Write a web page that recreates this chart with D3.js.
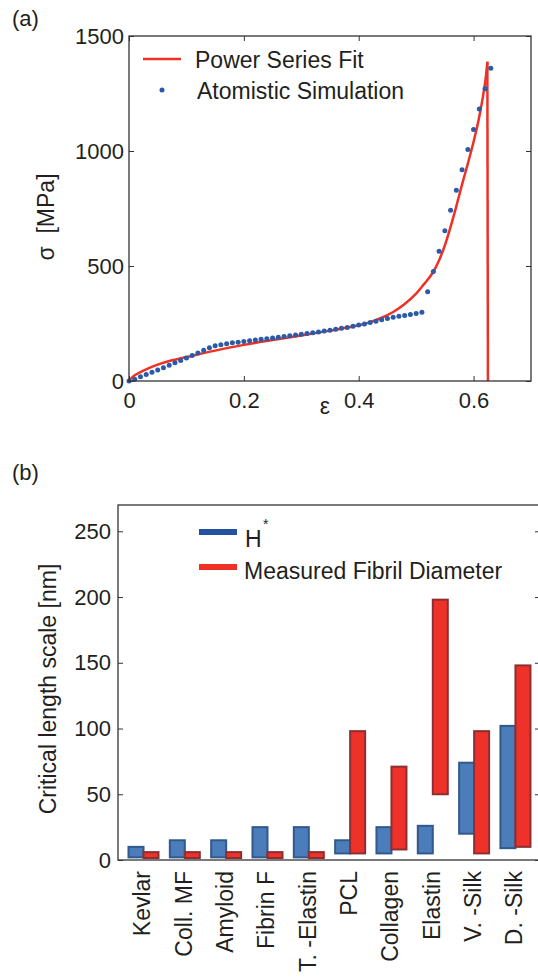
<!DOCTYPE html>
<html>
<head>
<meta charset="utf-8">
<script src="https://cdn.jsdelivr.net/npm/d3@7"></script>
<style>
body { margin: 0; background: #fff; }
svg text { font-family: "Liberation Sans", Arial, sans-serif; fill: #231f20; }
</style>
</head>
<body>
<svg id="fig" width="538" height="978"></svg>
<script>
// ---- panel (a): stress vs strain ----
var strain = [0, 0.01, 0.02, 0.03, 0.04, 0.05, 0.06, 0.07, 0.08, 0.09,
  0.10, 0.11, 0.12, 0.13, 0.14, 0.15, 0.16, 0.17, 0.18, 0.19,
  0.20, 0.21, 0.22, 0.23, 0.24, 0.25, 0.26, 0.27, 0.28, 0.29,
  0.30, 0.31, 0.32, 0.33, 0.34, 0.35, 0.36, 0.37, 0.38, 0.39,
  0.40, 0.41, 0.42, 0.43, 0.44, 0.45, 0.46, 0.47, 0.48, 0.49,
  0.50, 0.51, 0.52, 0.53, 0.54, 0.55, 0.56, 0.57, 0.58, 0.59,
  0.60, 0.61, 0.62, 0.63];
var stress = [0, 8, 18, 28, 38, 48, 58, 68, 79, 89,
  100, 111, 122, 134, 145, 153, 158, 162, 166, 169,
  172, 175, 178, 181, 184, 187, 190, 193, 197, 200,
  203, 206, 210, 213, 217, 221, 225, 229, 233, 238,
  243, 248, 254, 260, 266, 272, 277, 281, 285, 289,
  294, 299, 388, 476, 564, 653, 742, 829, 919, 1007,
  1094, 1183, 1271, 1360];

var fitStrain = [0, 0.005, 0.01, 0.02, 0.03, 0.05, 0.075, 0.10, 0.15, 0.20,
  0.25, 0.30, 0.35, 0.40, 0.42, 0.44, 0.46, 0.48, 0.50, 0.51,
  0.52, 0.53, 0.54, 0.55, 0.56, 0.57, 0.58, 0.59, 0.60, 0.61,
  0.62, 0.624];
var fitStress = [0, 15, 25, 39, 51, 71, 90, 104, 132, 157,
  178, 198, 219, 242, 256, 275, 300, 335, 380, 410,
  440, 475, 525, 590, 670, 760, 855, 945, 1040, 1150,
  1295, 1388];
var failStrain = 0.625;

var xTicksA = [0, 0.2, 0.4, 0.6];
var yTicksA = [0, 500, 1000, 1500];

// ---- panel (b): critical length scales ----
var materials = ["Kevlar", "Coll. MF", "Amyloid", "Fibrin F", "T. -Elastin",
  "PCL", "Collagen", "Elastin", "V. -Silk", "D. -Silk"];
var hLow  = [2, 2, 2, 2, 2, 5, 5, 5, 20, 9];
var hHigh = [10, 15, 15, 25, 25, 15, 25, 26, 74, 102];
var dLow  = [1.5, 1.5, 1.5, 1.5, 1.5, 5, 8, 50, 5, 10];
var dHigh = [6, 6, 6, 6, 6, 98, 71, 198, 98, 148];
var yTicksB = [0, 50, 100, 150, 200, 250];

var red = "#ee3124", blue = "#2a5aa8";
var svg = d3.select("#fig");

function styleAxis(sel, size) {
  sel.attr("font-size", size).attr("font-family", null).attr("color", "#333");
  sel.select(".domain").remove();
  sel.selectAll("line").attr("stroke-width", 1);
}

// ---------- (a) ----------
var a = { left: 129, right: 531, top: 36, bottom: 381 };
var x = d3.scaleLinear().domain([0, 0.7]).range([a.left, a.right]);
var y = d3.scaleLinear().domain([0, 1500]).range([a.bottom, a.top]);

var ga = svg.append("g");

var line = d3.line()
  .x(function(d) { return x(d[0]); })
  .y(function(d) { return y(d[1]); })
  .curve(d3.curveCatmullRom);

var fitPts = fitStrain.map(function(s, i) { return [s, fitStress[i]]; });
ga.append("path")
  .datum(fitPts)
  .attr("fill", "none")
  .attr("stroke", red)
  .attr("stroke-width", 2.5)
  .attr("d", line);
// drop at failure
ga.append("path")
  .datum([fitPts[fitPts.length - 1], [failStrain, 0]])
  .attr("fill", "none")
  .attr("stroke", red)
  .attr("stroke-width", 2.5)
  .attr("d", d3.line().x(function(d) { return x(d[0]); }).y(function(d) { return y(d[1]); }));

ga.selectAll("circle.sim")
  .data(strain)
  .enter().append("circle")
  .attr("class", "sim")
  .attr("cx", function(d) { return x(d); })
  .attr("cy", function(d, i) { return y(stress[i]); })
  .attr("r", 2.5)
  .attr("fill", blue);

ga.append("g").attr("transform", "translate(0," + a.bottom + ")")
  .call(d3.axisBottom(x).tickValues(xTicksA).tickFormat(function(d) { return String(d); })
    .tickSize(-5).tickPadding(11))
  .call(styleAxis, 22);
ga.append("g").attr("transform", "translate(" + a.left + ",0)")
  .call(d3.axisLeft(y).tickValues(yTicksA).tickFormat(d3.format("d")).tickSize(-5).tickPadding(5))
  .call(styleAxis, 22);
ga.append("g").attr("transform", "translate(0," + a.top + ")")
  .call(d3.axisTop(x).tickValues(xTicksA).tickFormat("").tickSize(-5))
  .call(styleAxis, 22);
ga.append("g").attr("transform", "translate(" + a.right + ",0)")
  .call(d3.axisRight(y).tickValues(yTicksA).tickFormat("").tickSize(-5))
  .call(styleAxis, 22);

ga.append("rect")
  .attr("x", a.left).attr("y", a.top)
  .attr("width", a.right - a.left).attr("height", a.bottom - a.top)
  .attr("fill", "none").attr("stroke", "#333").attr("stroke-width", 1.3);

// legend (a)
ga.append("line").attr("x1", 143).attr("x2", 181).attr("y1", 59).attr("y2", 59)
  .attr("stroke", red).attr("stroke-width", 2.5);
ga.append("text").attr("x", 195).attr("y", 67.5).attr("font-size", 23).text("Power Series Fit");
ga.append("circle").attr("cx", 162).attr("cy", 90).attr("r", 2.5).attr("fill", blue);
ga.append("text").attr("x", 197).attr("y", 98.5).attr("font-size", 23).text("Atomistic Simulation");

ga.append("text").attr("x", 325).attr("y", 414).attr("text-anchor", "middle")
  .attr("font-size", 23).text("ε");
ga.append("text").attr("transform", "translate(54,217) rotate(-90)")
  .attr("text-anchor", "middle").attr("font-size", 23)
  .style("white-space", "pre").text("σ  [MPa]");
svg.append("text").attr("x", 12).attr("y", 26).attr("font-size", 22).text("(a)");

// ---------- (b) ----------
var b = { left: 118, right: 540, top: 505, bottom: 860 };
var xb = d3.scaleLinear().domain([-0.617, 9.594]).range([b.left, b.right]);
var yb = d3.scaleLinear().domain([0, 270]).range([b.bottom, b.top]);
var bw = 0.363;

var gb = svg.append("g");

gb.selectAll("rect.h")
  .data(materials)
  .enter().append("rect")
  .attr("class", "h")
  .attr("x", function(d, i) { return xb(i - bw); })
  .attr("width", function() { return xb(bw) - xb(0); })
  .attr("y", function(d, i) { return yb(hHigh[i]); })
  .attr("height", function(d, i) { return yb(hLow[i]) - yb(hHigh[i]); })
  .attr("fill", "#4a7dba")
  .attr("stroke", "#30598c")
  .attr("stroke-width", 2);

gb.selectAll("rect.d")
  .data(materials)
  .enter().append("rect")
  .attr("class", "d")
  .attr("x", function(d, i) { return xb(i); })
  .attr("width", function() { return xb(bw) - xb(0); })
  .attr("y", function(d, i) { return yb(dHigh[i]); })
  .attr("height", function(d, i) { return yb(dLow[i]) - yb(dHigh[i]); })
  .attr("fill", "#ee3129")
  .attr("stroke", "#8c2f33")
  .attr("stroke-width", 2);

gb.append("g").attr("transform", "translate(" + b.left + ",0)")
  .call(d3.axisLeft(yb).tickValues(yTicksB).tickSize(-5).tickPadding(7))
  .call(styleAxis, 22);
gb.append("g").attr("transform", "translate(" + b.right + ",0)")
  .call(d3.axisRight(yb).tickValues(yTicksB).tickFormat("").tickSize(-5))
  .call(styleAxis, 22);

gb.append("rect")
  .attr("x", b.left).attr("y", b.top)
  .attr("width", b.right - b.left).attr("height", b.bottom - b.top)
  .attr("fill", "none").attr("stroke", "#333").attr("stroke-width", 1.3);

gb.selectAll("text.cat")
  .data(materials)
  .enter().append("text")
  .attr("class", "cat")
  .attr("transform", function(d, i) { return "translate(" + xb(i) + ",871) rotate(-90)"; })
  .attr("text-anchor", "end")
  .attr("dy", "0.3em")
  .attr("font-size", 23)
  .text(function(d) { return d; });

// legend (b)
gb.append("rect").attr("x", 199).attr("y", 529).attr("width", 38).attr("height", 6).attr("fill", "#2452a0");
gb.append("rect").attr("x", 199).attr("y", 564).attr("width", 38).attr("height", 6).attr("fill", red);
gb.append("text").attr("x", 245).attr("y", 547).attr("font-size", 23).text("H");
gb.append("text").attr("x", 263).attr("y", 529).attr("font-size", 14).text("*");
gb.append("text").attr("x", 244).attr("y", 579).attr("font-size", 23).text("Measured Fibril Diameter");

gb.append("text").attr("transform", "translate(56,689) rotate(-90)")
  .attr("text-anchor", "middle").attr("font-size", 23).text("Critical length scale [nm]");
svg.append("text").attr("x", 12).attr("y", 480).attr("font-size", 22).text("(b)");
</script>
</body>
</html>
